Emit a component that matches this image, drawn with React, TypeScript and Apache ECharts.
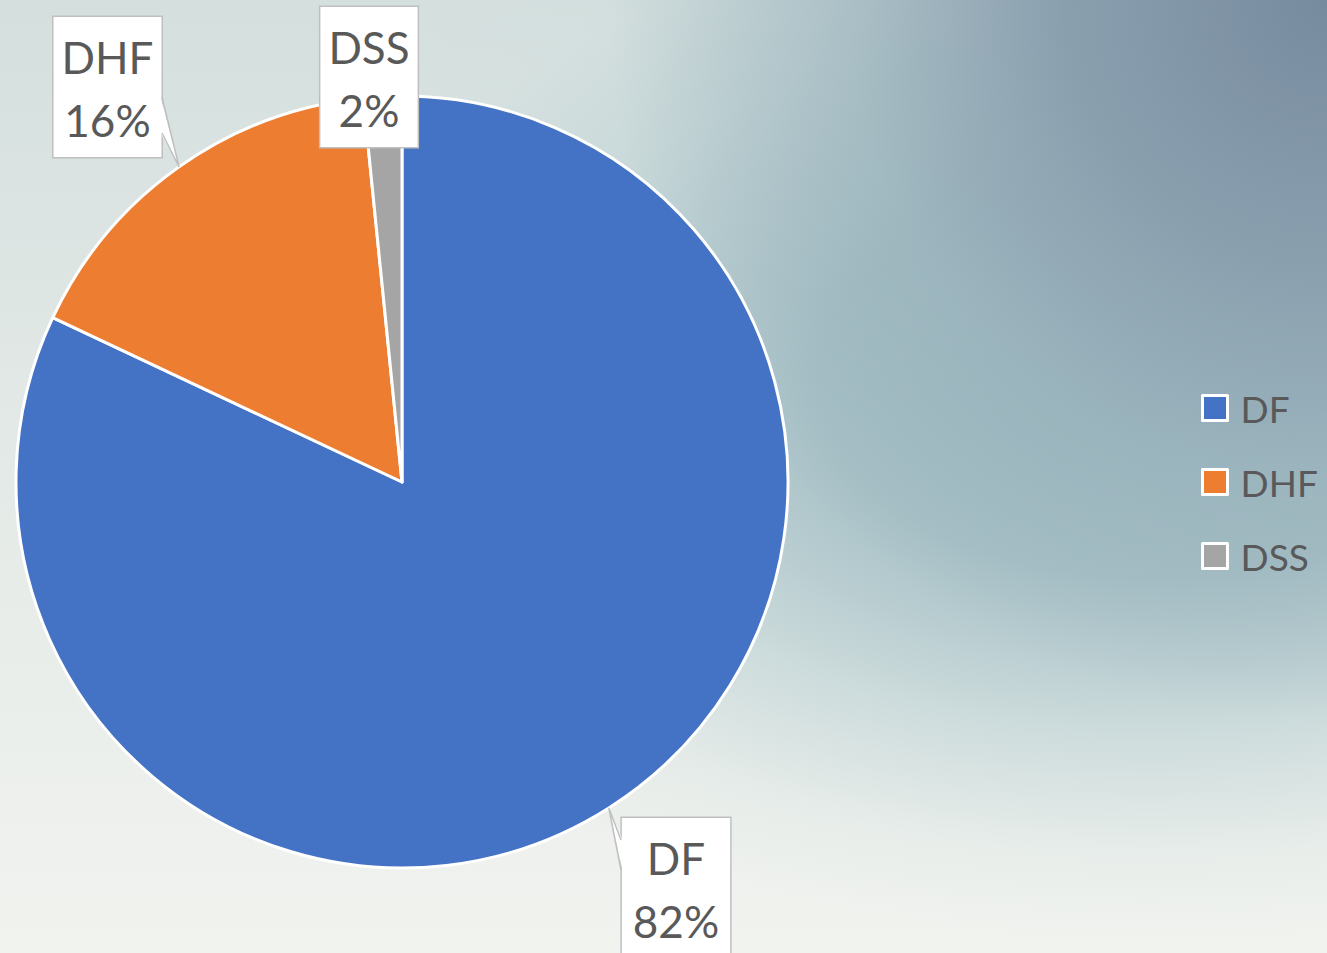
import React, { useEffect, useRef } from "react";
import * as echarts from "echarts";

const categories = ["DF", "DHF", "DSS"];
const values = [82, 16.4, 1.6];
const colors = ["#4472C4", "#ED7D31", "#A5A5A5"];

// layout constants
const CX = 402;
const CY = 482;
const R = 386;
// label box anchor (center x, top y) and horizontal padding
const labelBoxes = [
  { x: 676, y: 818, pad: 11 },
  { x: 107.5, y: 17, pad: 8 },
  { x: 369, y: 7, pad: 8 },
];
// callout pointer base on the box edge (x, y1, y2); null = hidden under the box
const pointerBases: ({ x: number; y1: number; y2: number; inward: number } | null)[] = [
  { x: 621, y1: 840, y2: 870, inward: 1.5 },
  { x: 162, y1: 97, y2: 133, inward: -1.5 },
  null,
];

export default function App() {
  const ref = useRef<HTMLDivElement>(null);
  useEffect(() => {
    const chart = echarts.init(ref.current!, null, { renderer: "svg" });

    const total = values.reduce((a, b) => a + b, 0);
    let acc = 0;
    const apexes = values.map((v) => {
      const mid = ((acc + v / 2) / total) * Math.PI * 2;
      acc += v;
      return [CX + R * Math.sin(mid), CY - R * Math.cos(mid)];
    });

    const graphics: any[] = [];
    pointerBases.forEach((b, i) => {
      if (!b) return;
      const a = apexes[i];
      graphics.push({
        type: "polygon",
        z: 10,
        silent: true,
        shape: {
          points: [
            [b.x + b.inward, b.y1],
            a,
            [b.x + b.inward, b.y2],
          ],
        },
        style: { fill: "#ffffff", stroke: null },
      });
      graphics.push({
        type: "polyline",
        z: 11,
        silent: true,
        shape: { points: [[b.x, b.y1], a, [b.x, b.y2]] },
        style: { stroke: "#bfbfbf", lineWidth: 1.5, fill: null },
      });
    });

    chart.setOption({
      animation: false,
      backgroundColor: "transparent",
      graphic: graphics,
      legend: {
        orient: "vertical",
        left: 1196,
        top: 383,
        icon: "rect",
        itemWidth: 25,
        itemHeight: 25,
        itemGap: 34,
        data: categories,
        itemStyle: { borderColor: "#ffffff", borderWidth: 3 },
        textStyle: {
          fontFamily: "Lato",
          fontSize: 37,
          color: "#595959",
          lineHeight: 40,
          padding: [0, 0, 0, 8],
        },
      },
      series: [
        {
          type: "pie",
          center: [CX, CY],
          radius: R,
          startAngle: 90,
          clockwise: true,
          avoidLabelOverlap: false,
          percentPrecision: 0,
          data: categories.map((c, i) => ({
            name: c,
            value: values[i],
            itemStyle: { color: colors[i] },
            label: { padding: [8, labelBoxes[i].pad, 6, labelBoxes[i].pad] },
          })),
          itemStyle: { borderColor: "#ffffff", borderWidth: 3 },
          label: {
            show: true,
            position: "outside",
            formatter: "{b}\n{d}%",
            fontFamily: "Lato",
            fontSize: 44,
            color: "#595959",
            lineHeight: 63,
            backgroundColor: "#ffffff",
            borderColor: "#bfbfbf",
            borderWidth: 1.5,
            align: "center",
          },
          labelLine: { show: false },
          labelLayout: (p: any) => {
            const b = labelBoxes[p.dataIndex];
            return { x: b.x, y: b.y, align: "center", verticalAlign: "top" };
          },
          emphasis: { disabled: true },
        },
      ],
    });
    return () => chart.dispose();
  }, []);

  return (
    <div
      style={{
        position: "fixed",
        left: 0,
        top: 0,
        width: 1327,
        height: 953,
        background: [
          "radial-gradient(circle at 100% 0%, #778b9f 0px, #8a9fae 260px, rgba(150,175,185,0.6) 480px, rgba(170,192,198,0) 720px)",
          "radial-gradient(950px 560px at 1150px 380px, rgba(158,186,194,1) 0%, rgba(162,189,196,0.92) 35%, rgba(185,207,210,0.55) 65%, rgba(205,221,221,0.2) 85%, rgba(210,225,224,0) 100%)",
          "linear-gradient(to bottom, #d4dfde 0%, #e4eae7 50%, #f1f3ef 100%)",
        ].join(", "),
      }}
    >
      <div ref={ref} style={{ width: 1327, height: 953 }} />
    </div>
  );
}
